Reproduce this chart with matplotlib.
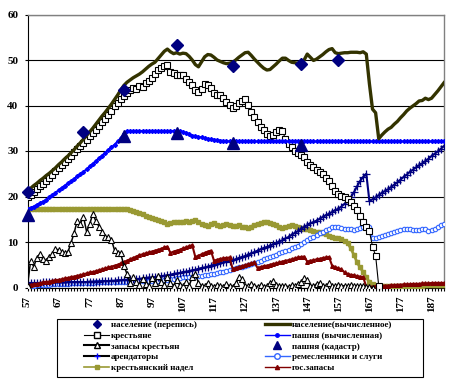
import numpy as np
import matplotlib.pyplot as plt
from matplotlib.lines import Line2D
from matplotlib.patches import Rectangle

plt.rcParams['font.family'] = ['Liberation Serif', 'DejaVu Serif']
plt.rcParams['font.weight'] = 'bold'

years = np.arange(57, 192)

# census points
census_years = [57, 75, 88, 105, 123, 145, 157]
census_pop = [21.0, 34.1, 43.4, 53.3, 48.7, 49.2, 50.1]

cadastre_years = [57, 88, 105, 123, 145]
cadastre_land = [16.0, 33.4, 34.0, 31.8, 31.4]

# calculated population, 57..191
pop_calc = [
    21.3, 21.8, 22.4, 22.9, 23.5, 24.0, 24.6, 25.1, 25.7, 26.3,
    27.0, 27.6, 28.3, 28.9, 29.6, 30.3, 31.1, 31.8, 32.6, 33.4,
    34.2, 35.0, 35.9, 36.8, 37.7, 38.5, 39.4, 40.3, 41.3, 42.3,
    43.4, 44.4, 45.1, 45.6, 46.1, 46.5, 46.9, 47.4, 48.0, 48.6,
    49.1, 49.5, 50.3, 51.1, 51.9, 52.4, 51.8, 51.4, 51.6, 51.3,
    51.5, 51.4, 50.8, 50.0, 49.0, 48.5, 49.6, 50.7, 51.2, 51.1,
    50.6, 50.0, 49.7, 49.4, 49.2, 49.3, 49.5, 50.0, 50.6, 51.1,
    51.6, 51.7, 51.0, 50.2, 49.5, 48.8, 48.2, 47.8, 47.9, 48.5,
    49.1, 49.8, 50.4, 50.4, 49.9, 49.5, 49.4, 49.3, 49.2, 50.0,
    51.3, 50.6, 49.9, 50.2, 50.7, 51.2, 51.8, 52.3, 52.5, 51.6,
    51.4, 51.5, 51.6, 51.6, 51.7, 51.7, 51.7, 51.6, 51.8, 51.3,
    44.8, 39.2, 38.4, 32.7, 33.5, 34.2, 34.8, 35.2, 35.9, 36.5,
    37.3, 38.0, 38.8, 39.4, 39.9, 40.4, 41.0, 41.1, 41.6, 41.3,
    41.6, 42.4, 43.2, 44.1, 45.0]

# peasants, 57..170
peasants = [
    19.8, 20.4, 21.0, 21.6, 22.2, 22.8, 23.4, 24.1, 24.8, 25.5,
    26.2, 26.9, 27.6, 28.3, 29.0, 29.7, 30.4, 31.1, 31.8, 32.5,
    33.2, 33.9, 34.7, 35.5, 36.3, 37.1, 38.0, 38.9, 39.8, 40.6,
    41.4, 42.1, 42.8, 43.4, 43.9, 43.6, 44.3, 44.0, 45.0, 45.4,
    46.0, 47.0, 47.8, 48.3, 48.7, 48.8, 47.4, 47.1, 46.6, 46.8,
    46.6, 45.8, 45.2, 44.4, 43.5, 42.9, 43.6, 44.8, 44.6, 43.8,
    42.8, 42.2, 42.4, 41.6, 40.8, 40.2, 39.5, 40.0, 40.6, 41.0,
    41.4, 40.2, 38.6, 37.4, 36.3, 35.3, 34.6, 33.8, 33.2, 33.5,
    34.2, 34.6, 34.5, 32.6, 31.6, 30.9, 30.0, 29.6, 29.2, 28.6,
    27.6, 26.9, 26.4, 25.8, 25.3, 24.9, 24.0, 23.3, 22.2, 21.2,
    20.6, 20.2, 19.9, 19.5, 18.9, 18.0, 17.0, 15.8, 14.3, 13.4,
    12.4, 9.0, 7.0, 0.3]

# calculated ploughland, 57..191
land_calc = [
    17.2, 17.5, 17.8, 18.2, 18.5, 18.9, 19.3, 19.8, 20.3, 20.8,
    21.4, 21.9, 22.4, 22.9, 23.4, 23.9, 24.4, 24.9, 25.4, 26.0,
    26.6, 27.2, 27.8, 28.4, 29.0, 29.6, 30.2, 30.8, 31.4, 32.1,
    32.8, 33.8, 34.4, 34.4, 34.4, 34.4, 34.4, 34.4, 34.4, 34.4,
    34.4, 34.4, 34.4, 34.4, 34.4, 34.4, 34.4, 34.4, 34.4, 34.3,
    34.2, 34.0, 33.7, 33.4, 33.3, 33.1, 33.0, 32.8, 32.7, 32.6,
    32.5, 32.4, 32.3, 32.2, 32.2, 32.1, 32.1, 32.1, 32.1, 32.1,
    32.1, 32.1, 32.1, 32.1, 32.1, 32.1, 32.1, 32.1, 32.1, 32.1,
    32.1, 32.1, 32.1, 32.1, 32.1, 32.1, 32.1, 32.1, 32.1, 32.1,
    32.1, 32.1, 32.1, 32.1, 32.1, 32.1, 32.1, 32.1, 32.1, 32.1,
    32.1, 32.1, 32.1, 32.1, 32.1, 32.1, 32.1, 32.1, 32.1, 32.1,
    32.1, 32.1, 32.1, 32.1, 32.1, 32.1, 32.1, 32.1, 32.1, 32.1,
    32.1, 32.1, 32.1, 32.1, 32.1, 32.1, 32.1, 32.1, 32.1, 32.1,
    32.1, 32.1, 32.1, 32.1, 32.1]

# peasant reserves, 57..168
peas_reserves = [
    0.3, 5.9, 4.6, 6.5, 7.4, 6.2, 5.9, 6.8, 7.3, 8.4,
    8.3, 7.9, 7.6, 7.8, 9.8, 12.0, 14.7, 14.0, 15.6, 12.3,
    13.9, 16.2, 14.6, 13.4, 12.3, 11.2, 11.0, 10.5, 8.2, 7.6,
    7.5, 4.8, 3.0, 1.0, 2.2, 1.2, 0.6, 1.8, 0.8, 0.4,
    2.1, 1.0, 2.6, 1.2, 0.5, 2.4, 1.0, 0.4, 1.6, 0.5,
    0.3, 1.2, 0.4, 2.2, 3.0, 1.0, 0.4, 0.3, 1.0, 0.3,
    0.2, 0.6, 0.3, 0.2, 0.8, 0.3, 0.2, 0.9, 2.2, 1.8,
    0.4, 0.3, 0.8, 0.3, 0.2, 0.5, 0.2, 0.3, 1.0, 1.4,
    0.6, 0.3, 0.4, 0.3, 0.2, 0.5, 0.3, 0.8, 1.2, 2.0,
    1.6, 0.4, 0.3, 0.8, 1.0, 0.3, 0.4, 0.9, 0.4, 0.3,
    0.6, 0.3, 0.4, 0.3, 0.5, 0.3, 0.4, 0.3, 0.4, 0.2,
    0.1, 0.0]

# tenants, 57..191
tenants = [
    1.0, 1.0, 1.0, 1.0, 1.0, 1.1, 1.1, 1.1, 1.1, 1.1,
    1.1, 1.1, 1.1, 1.2, 1.2, 1.2, 1.2, 1.2, 1.2, 1.2,
    1.3, 1.3, 1.3, 1.3, 1.4, 1.4, 1.4, 1.5, 1.5, 1.6,
    1.6, 1.7, 1.7, 1.8, 1.8, 1.9, 1.9, 2.0, 2.1, 2.2,
    2.2, 2.3, 2.4, 2.5, 2.6, 2.7, 2.8, 3.0, 3.1, 3.2,
    3.4, 3.5, 3.6, 3.8, 3.9, 4.1, 4.3, 4.4, 4.6, 4.8,
    5.0, 5.2, 5.4, 5.5, 5.7, 5.9, 6.0, 6.2, 6.5, 6.7,
    6.9, 7.2, 7.5, 7.8, 8.1, 8.4, 8.7, 8.9, 9.2, 9.5,
    9.8, 10.1, 10.4, 10.8, 11.1, 11.6, 12.0, 12.4, 12.9, 13.3,
    13.7, 14.1, 14.4, 14.7, 15.1, 15.5, 15.9, 16.2, 16.6, 17.0,
    17.3, 17.8, 18.4, 18.9, 19.8, 20.9, 22.2, 23.4, 24.3, 25.0,
    19.0, 19.4, 19.8, 20.3, 20.8, 21.2, 21.6, 22.1, 22.6, 23.1,
    23.7, 24.3, 24.8, 25.4, 25.9, 26.4, 26.9, 27.3, 27.8, 28.3,
    28.9, 29.4, 29.9, 30.5, 31.1]

# craftsmen and servants, 57..191
crafts = [
    0.3, 0.4, 0.4, 0.5, 0.5, 0.6, 0.6, 0.6, 0.7, 0.7,
    0.7, 0.8, 0.8, 0.8, 0.9, 0.9, 0.9, 0.9, 1.0, 1.0,
    1.0, 1.0, 1.1, 1.1, 1.1, 1.1, 1.2, 1.2, 1.2, 1.2,
    1.3, 1.3, 1.3, 1.3, 1.3, 1.4, 1.4, 1.4, 1.4, 1.4,
    1.5, 1.5, 1.5, 1.5, 1.6, 1.7, 1.8, 1.9, 2.0, 2.1,
    2.2, 2.3, 2.3, 2.4, 2.5, 2.5, 2.6, 2.7, 2.8, 2.9,
    3.0, 3.1, 3.3, 3.5, 3.7, 3.8, 4.0, 4.2, 4.4, 4.6,
    4.8, 5.0, 5.2, 5.4, 5.6, 5.9, 6.2, 6.4, 6.7, 6.9,
    7.2, 7.5, 7.7, 8.0, 8.3, 8.6, 8.9, 9.2, 9.6, 10.1,
    10.5, 10.9, 11.2, 11.5, 11.9, 12.2, 12.6, 12.9, 13.2, 13.3,
    13.2, 13.0, 12.9, 12.8, 12.9, 12.6, 12.8, 13.1, 13.4, 13.6,
    13.4, 10.8, 10.9, 11.1, 11.3, 11.6, 11.8, 11.9, 12.1, 12.4,
    12.7, 12.9, 12.9, 12.8, 12.7, 12.6, 12.7, 12.9, 12.8, 12.5,
    12.6, 12.9, 13.3, 13.7, 14.0]

# peasant allotment, 57..191
allotment = [
    17.2, 17.2, 17.2, 17.2, 17.2, 17.2, 17.2, 17.2, 17.2, 17.2,
    17.2, 17.2, 17.2, 17.2, 17.2, 17.2, 17.2, 17.2, 17.2, 17.2,
    17.2, 17.2, 17.2, 17.2, 17.2, 17.2, 17.2, 17.2, 17.2, 17.2,
    17.2, 17.2, 17.2, 17.1, 16.8, 16.5, 16.3, 16.1, 15.8, 15.5,
    15.3, 15.1, 14.9, 14.6, 14.3, 14.0, 14.2, 14.4, 14.4, 14.3,
    14.5, 14.7, 14.5, 14.6, 14.8, 14.4, 14.0, 13.8, 13.6, 13.9,
    14.1, 13.8, 13.6, 13.8, 14.0, 13.8, 13.6, 13.6, 13.7, 13.4,
    13.2, 13.0, 13.4, 13.8, 14.0, 14.2, 14.3, 14.4, 14.2, 14.0,
    13.8, 13.4, 13.0, 13.2, 13.6, 13.8, 13.5, 13.2, 13.0, 12.8,
    12.8, 12.6, 12.5, 12.3, 12.2, 12.0, 11.7, 11.4, 11.1, 10.9,
    10.8, 10.6, 10.3, 9.8, 8.6, 7.2, 5.6, 4.4, 3.4, 2.2,
    1.2, 0.7, 0.3, 0.3, 0.3, 0.3, 0.3, 0.3, 0.3, 0.3,
    0.3, 0.4, 0.4, 0.4, 0.4, 0.4, 0.4, 0.4, 0.5, 0.5,
    0.5, 0.5, 0.5, 0.5, 0.5]

# state reserves, 57..191
state_reserves = [
    0.5, 0.6, 0.7, 0.8, 0.9, 1.1, 1.2, 1.3, 1.5, 1.6,
    1.7, 1.8, 2.0, 2.1, 2.3, 2.4, 2.6, 2.7, 2.9, 3.1,
    3.3, 3.4, 3.6, 3.8, 4.0, 4.2, 4.4, 4.6, 4.8, 5.0,
    5.3, 5.6, 5.9, 6.2, 6.5, 6.8, 7.1, 7.3, 7.5, 7.7,
    7.9, 8.1, 8.3, 8.5, 8.8, 9.0, 7.6, 7.9, 8.1, 8.3,
    8.6, 8.8, 9.1, 9.3, 6.7, 7.0, 7.3, 7.6, 7.9, 8.1,
    5.9, 6.1, 6.3, 6.4, 6.5, 6.6, 4.1, 4.3, 4.5, 4.7,
    4.9, 5.1, 5.3, 5.5, 4.3, 4.5, 4.7, 4.8, 5.0, 5.2,
    5.3, 5.5, 5.7, 5.9, 6.0, 6.2, 6.4, 6.6, 6.7, 6.8,
    5.7, 5.9, 6.0, 6.2, 6.3, 6.5, 6.6, 6.7, 4.8, 4.5,
    4.2, 4.0, 3.3, 3.0, 2.8, 2.7, 2.5, 2.4, 2.3, 0.1,
    0.2, 0.2, 0.3, 0.3, 0.3, 0.4, 0.4, 0.5, 0.5, 0.6,
    0.6, 0.7, 0.7, 0.7, 0.8, 0.8, 0.8, 0.9, 0.9, 0.9,
    1.0, 1.0, 1.0, 1.0, 1.0]

labels = ['население (перепись)', 'население(вычисленное)', 'крестьяне',
          'пашня (вычисленная)', 'запасы крестьян', 'пашня (кадастр)',
          'арендаторы', 'ремесленники и слуги', 'крестьянский надел', 'гос.запасы']

NAVY = '#000080'
OLIVE_DK = '#333300'
BLUE = '#0000FF'
LBLUE = '#3366FF'
OLIVE = '#999933'
RED = '#800000'

fig = plt.figure(figsize=(4.57, 3.83), dpi=100)
ax = fig.add_axes([27.5 / 457, 1 - 287.5 / 383, 416.5 / 457, 273 / 383])

ax.plot(years[:len(allotment)], allotment, color=OLIVE, lw=2, marker='s', ms=2.6, mec=OLIVE, zorder=3)
ax.plot(years[:len(crafts)], crafts, color=LBLUE, lw=1, marker='o', ms=3.2, mfc='white', mec=LBLUE, mew=0.8, zorder=3)
ax.plot(years[:len(tenants)], tenants, color=NAVY, lw=1.5, marker='+', ms=6, mew=0.9, zorder=3)
ax.plot(years[:len(state_reserves)], state_reserves, color=RED, lw=1.5, marker='^', ms=2.6, zorder=4)
ax.plot(years[:len(peas_reserves)], peas_reserves, color='black', lw=1.1, marker='^', ms=5, mfc='white', mec='black', mew=0.8, zorder=4)
ax.plot(years[:len(peasants)], peasants, color='black', lw=0.8, marker='s', ms=4.6, mfc='white', mec='black', mew=0.8, zorder=5)
ax.plot(years[:len(land_calc)], land_calc, color=BLUE, lw=1.5, marker='D', ms=2.0, zorder=5)
ax.plot(years[:len(pop_calc)], pop_calc, color=OLIVE_DK, lw=2.4, zorder=6)
ax.plot(cadastre_years, cadastre_land, ls='none', marker='^', ms=8.5, color=NAVY, zorder=7, clip_on=False)
ax.plot(census_years, census_pop, ls='none', marker='D', ms=6.5, color=NAVY, zorder=7, clip_on=False)

ax.set_xlim(57, 191)
ax.set_ylim(0, 60)
ax.set_xticks(np.arange(57, 188, 10))
ax.set_xticks(years, minor=True)
ax.set_yticks(np.arange(0, 61, 10))
ax.tick_params(axis='x', which='both', direction='out', length=2.5, width=0.8, pad=3.5,
               labelsize=8, labelrotation=90)
ax.tick_params(axis='y', direction='out', length=2.5, width=0.8, pad=4, labelsize=8)
ax.grid(axis='y', color='black', lw=0.8)
ax.set_axisbelow(True)
for s in ['top', 'right']:
    ax.spines[s].set_color('#808080')
    ax.spines[s].set_linewidth(1.0)
for s in ['left', 'bottom']:
    ax.spines[s].set_linewidth(0.8)

# legend proxies, filled column by column
handles = [
    Line2D([], [], ls='none', marker='D', ms=4, color=NAVY),
    Line2D([], [], color='black', lw=0.8, marker='s', ms=4.5, mfc='white', mec='black'),
    Line2D([], [], color='black', lw=1.5, marker='^', ms=5, mfc='white', mec='black'),
    Line2D([], [], color='black', lw=1.5, marker='+', ms=4, mec=BLUE),
    Line2D([], [], color=OLIVE, lw=1.2, marker='s', ms=3, mec=OLIVE),
    Line2D([], [], color=OLIVE_DK, lw=2.4),
    Line2D([], [], color=BLUE, lw=1, marker='o', ms=2.5),
    Line2D([], [], ls='none', marker='^', ms=6, color=NAVY),
    Line2D([], [], color=LBLUE, lw=1, marker='o', ms=4, mfc='white', mec=LBLUE),
    Line2D([], [], color=RED, lw=1, marker='^', ms=3),
]
leg_labels = [labels[0], labels[2], labels[4], labels[6], labels[8],
              labels[1], labels[3], labels[5], labels[7], labels[9]]

fig.legend(handles, leg_labels, loc='upper left', bbox_to_anchor=(84 / 457, 1 - 321 / 383),
           ncol=2, frameon=False, borderpad=0, borderaxespad=0, handlelength=2.8,
           handletextpad=0.2, columnspacing=7.5, labelspacing=0.26,
           prop={'size': 6.5, 'weight': 'bold'})
fig.add_artist(Rectangle((57 / 457, 1 - 377 / 383), 366 / 457, 58 / 383,
                         transform=fig.transFigure, fill=False, edgecolor='black', lw=0.8))

fig.savefig('out.png', dpi=100)
